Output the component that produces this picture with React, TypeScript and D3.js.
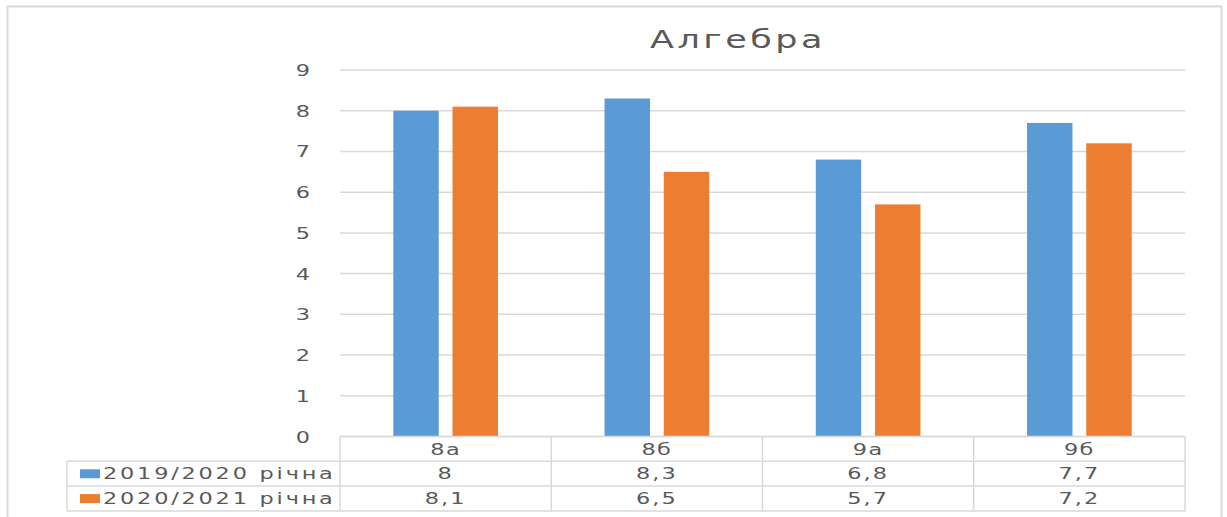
import React, { useEffect, useRef } from 'react';
import * as d3 from 'd3';

// chart data
const categories = ['8а', '8б', '9а', '9б'];
const seriesNames = ['2019/2020 річна', '2020/2021 річна'];
const values2019 = [8, 8.3, 6.8, 7.7];
const values2020 = [8.1, 6.5, 5.7, 7.2];
const valueLabels2019 = ['8', '8,3', '6,8', '7,7'];
const valueLabels2020 = ['8,1', '6,5', '5,7', '7,2'];
const yTicks = [0, 1, 2, 3, 4, 5, 6, 7, 8, 9];
const colors = ['#5B9BD5', '#ED7D31'];

const W = 1227;
const H = 517;
const TEXT = '#595959';
const GRID = '#d9d9d9';
const FONT = 'DejaVu Sans, Verdana, sans-serif';
const STRETCH = 1.4;

const App: React.FC = () => {
  const svgRef = useRef<SVGSVGElement>(null);

  useEffect(() => {
    if (!svgRef.current) return;
    const svg = d3.select(svgRef.current);
    svg.selectAll('*').remove();

    const plot = { left: 340, right: 1185, top: 70, bottom: 436.5 };
    const rowH = 24.8;
    const legendLeft = 67;

    const y = d3.scaleLinear().domain([0, 9]).range([plot.bottom, plot.top]);
    const x0 = d3.scaleBand<string>().domain(categories).range([plot.left, plot.right]);
    const x1 = d3
      .scaleBand<string>()
      .domain(seriesNames)
      .range([0, x0.bandwidth()])
      .paddingInner(0.233)
      .paddingOuter(0.9);

    // helper for the wide, stretched text look
    const stretchedText = (
      g: d3.Selection<SVGGElement, unknown, null, undefined>,
      tx: number,
      ty: number,
      txt: string,
      size: number,
      anchor: string,
      spacing: number,
    ) => {
      g.append('text')
        .attr('transform', `translate(${tx},${ty}) scale(${STRETCH},1)`)
        .attr('text-anchor', anchor)
        .attr('font-family', FONT)
        .attr('font-size', size)
        .attr('letter-spacing', spacing)
        .attr('fill', TEXT)
        .text(txt);
    };

    const root = svg.append('g');

    // background + outer frame
    root.append('rect').attr('width', W).attr('height', H).attr('fill', '#fff');
    root.append('rect')
      .attr('x', 7.5).attr('y', 6.5)
      .attr('width', 1214).attr('height', H + 10)
      .attr('fill', 'none')
      .attr('stroke', GRID)
      .attr('stroke-width', 2);

    // title
    stretchedText(root, 738, 48, 'Алгебра', 25, 'middle', 2.5);

    // gridlines + y tick labels
    yTicks.forEach((t) => {
      root.append('line')
        .attr('x1', plot.left).attr('x2', plot.right)
        .attr('y1', y(t)).attr('y2', y(t))
        .attr('stroke', GRID).attr('stroke-width', 1.5);
      stretchedText(root, 310, y(t) + 6, String(t), 16, 'end', 0);
    });

    // bars
    const seriesValues = [values2019, values2020];
    seriesValues.forEach((vals, si) => {
      root.append('g')
        .selectAll('rect')
        .data(vals)
        .enter()
        .append('rect')
        .attr('x', (_, i) => (x0(categories[i]) ?? 0) + (x1(seriesNames[si]) ?? 0))
        .attr('y', (d) => y(d))
        .attr('width', x1.bandwidth())
        .attr('height', (d) => plot.bottom - y(d))
        .attr('fill', colors[si]);
    });

    // data table
    const tableG = root.append('g');
    const rowTop = [plot.bottom, plot.bottom + rowH, plot.bottom + 2 * rowH, plot.bottom + 3 * rowH];
    const line = (x1p: number, y1p: number, x2p: number, y2p: number) =>
      tableG.append('line')
        .attr('x1', x1p).attr('y1', y1p).attr('x2', x2p).attr('y2', y2p)
        .attr('stroke', GRID).attr('stroke-width', 1.5);

    line(plot.left, rowTop[0], plot.right, rowTop[0]);
    line(legendLeft, rowTop[1], plot.right, rowTop[1]);
    line(legendLeft, rowTop[2], plot.right, rowTop[2]);
    line(legendLeft, rowTop[3], plot.right, rowTop[3]);
    line(legendLeft, rowTop[1], legendLeft, rowTop[3]);
    categories.forEach((c) => line(x0(c) ?? 0, rowTop[0], x0(c) ?? 0, rowTop[3]));
    line(plot.right, rowTop[0], plot.right, rowTop[3]);

    const labelRows = [valueLabels2019, valueLabels2020];
    categories.forEach((c) => {
      const cx = (x0(c) ?? 0) + x0.bandwidth() / 2;
      stretchedText(tableG, cx, rowTop[0] + 18, c, 16, 'middle', 1);
    });
    labelRows.forEach((labels, ri) => {
      labels.forEach((lab, i) => {
        const cx = (x0(categories[i]) ?? 0) + x0.bandwidth() / 2;
        stretchedText(tableG, cx, rowTop[ri + 1] + 18, lab, 16, 'middle', 1.5);
      });
      // legend key + series name
      tableG.append('rect')
        .attr('x', 80).attr('y', rowTop[ri + 1] + 8)
        .attr('width', 20).attr('height', 9)
        .attr('fill', colors[ri]);
      stretchedText(tableG, 103, rowTop[ri + 1] + 18, seriesNames[ri], 16, 'start', 2);
    });
  }, []);

  return (
    <svg
      ref={svgRef}
      width={W}
      height={H}
      style={{ position: 'fixed', left: 0, top: 0, display: 'block' }}
    />
  );
};

export default App;
